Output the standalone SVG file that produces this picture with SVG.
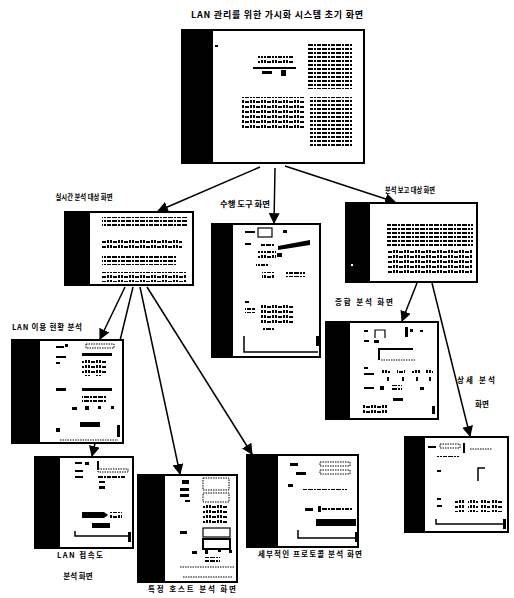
<svg xmlns="http://www.w3.org/2000/svg" width="514" height="598" viewBox="0 0 514 598">
<style>
.lbl{font-family:"Noto Sans CJK KR","Noto Sans",sans-serif;font-size:7.5px;font-weight:bold;fill:#000;text-anchor:middle}
.ttl{font-size:9px}
.frame{fill:#fff;stroke:#000;stroke-width:2}
.band{fill:#000}
.tx{fill:url(#tx)}
.tx2{fill:url(#tx2)}
.k{fill:#000}
.ol{fill:none;stroke:#000;stroke-width:1.2}
.dl{fill:none;stroke:#000;stroke-width:1;stroke-dasharray:1.5 1}
.con{fill:none;stroke:#000;stroke-width:1.5}
</style>
<defs>
<pattern id="tx" width="14" height="4" patternUnits="userSpaceOnUse">
<rect x="0" y="0" width="5" height="2" fill="#000"/><rect x="6" y="0" width="2" height="2" fill="#000"/><rect x="9" y="0" width="4" height="2" fill="#000"/>
</pattern>
<pattern id="tx2" width="11" height="5" patternUnits="userSpaceOnUse">
<rect x="0" y="0" width="2" height="3" fill="#000"/><rect x="3" y="1" width="4" height="2" fill="#000"/><rect x="8" y="0" width="2" height="3" fill="#000"/>
</pattern>
<marker id="ah" viewBox="0 0 10 10" refX="9" refY="5" markerWidth="11" markerHeight="11" markerUnits="userSpaceOnUse" orient="auto">
<path d="M0,0 L10,5 L0,10 Z" fill="#000"/>
</marker>
</defs>

<text class="lbl ttl" x="277" y="18" textLength="172" lengthAdjust="spacing">LAN 관리를 위한 가시화 시스템 초기 화면</text>

<g id="connectors">
<path class="con" d="M260,167 L158,211" marker-end="url(#ah)"/>
<path class="con" d="M275,168 L274,223" marker-end="url(#ah)"/>
<path class="con" d="M285,166 L395,202" marker-end="url(#ah)"/>
<path class="con" d="M125,287 L100,339" marker-end="url(#ah)"/>
<path class="con" d="M133,287 L92,456" marker-end="url(#ah)"/>
<path class="con" d="M140,287 L180,474" marker-end="url(#ah)"/>
<path class="con" d="M147,287 L252,454" marker-end="url(#ah)"/>
<path class="con" d="M417,283 L402,321" marker-end="url(#ah)"/>
<path class="con" d="M432,283 L470,436" marker-end="url(#ah)"/>
</g>

<g id="n-main">
<rect class="frame" x="182" y="30" width="182" height="133"/>
<rect class="band" x="182" y="30" width="31" height="133"/>
<rect class="k" x="215" y="45" width="3" height="2"/>
<rect class="tx2" x="258" y="56" width="36" height="9"/>
<rect class="k" x="253" y="67" width="43" height="2"/>
<rect class="k" x="262" y="71" width="10" height="3"/>
<rect class="k" x="281" y="70" width="5" height="6"/>
<rect class="tx" x="308" y="43" width="44" height="46"/>
<rect class="tx2" x="242" y="97" width="62" height="33"/>
<rect class="tx" x="310" y="97" width="42" height="51"/>
</g>

<g id="n-realtime">
<text class="lbl" x="84" y="200" textLength="57" lengthAdjust="spacingAndGlyphs">실시간 분석 대상 화면</text>
<rect class="frame" x="65" y="212" width="128" height="73"/>
<rect class="band" x="65" y="212" width="25" height="73"/>
<rect class="tx" x="102" y="217" width="85" height="11"/>
<rect class="tx2" x="102" y="238" width="80" height="11"/>
<rect class="tx" x="102" y="255" width="75" height="10"/>
<rect class="tx2" x="102" y="272" width="85" height="10"/>
</g>

<g id="n-tools">
<text class="lbl" x="245" y="207" textLength="50" lengthAdjust="spacingAndGlyphs">수행 도구 화면</text>
<rect class="frame" x="212" y="224" width="108" height="133"/>
<rect class="band" x="212" y="224" width="21" height="133"/>
<rect class="k" x="245" y="231" width="10" height="2"/>
<rect class="ol" x="258" y="228" width="14" height="9"/>
<rect class="k" x="283" y="230" width="4" height="3"/>
<rect class="k" x="245" y="243" width="6" height="2"/>
<rect class="tx" x="260" y="243" width="14" height="5"/>
<path class="k" d="M278,246 L310,240 L310,245 L278,250 Z"/>
<rect class="tx2" x="258" y="251" width="18" height="8"/>
<rect class="k" x="277" y="253" width="5" height="4"/>
<rect class="tx" x="256" y="262" width="12" height="6"/>
<rect class="tx2" x="262" y="272" width="12" height="6"/>
<rect class="tx" x="285" y="271" width="20" height="6"/>
<rect class="k" x="245" y="301" width="4" height="2"/>
<rect class="tx" x="245" y="307" width="10" height="6"/>
<rect class="tx2" x="260" y="305" width="34" height="18"/>
<rect class="tx" x="263" y="326" width="11" height="5"/>
<path class="con" d="M244,336 L244,352 L318,352"/>
<rect class="k" x="316" y="336" width="3" height="10"/>
</g>

<g id="n-report">
<text class="lbl" x="410" y="193" textLength="50" lengthAdjust="spacingAndGlyphs">분석 보고 대상 화면</text>
<rect class="frame" x="346" y="203" width="131" height="79"/>
<rect class="band" x="346" y="203" width="24" height="79"/>
<rect x="351" y="264" width="2" height="2" fill="#fff"/>
<rect class="tx" x="387" y="224" width="86" height="22"/>
<rect class="tx2" x="387" y="249" width="86" height="24"/>
</g>

<g id="n-lanuse">
<text class="lbl" x="47" y="330" textLength="70" lengthAdjust="spacing">LAN 이용 현황 분석</text>
<rect class="frame" x="12" y="340" width="111" height="103"/>
<rect class="band" x="12" y="340" width="28" height="103"/>
<rect class="k" x="56" y="346" width="8" height="2"/>
<rect class="k" x="65" y="344" width="3" height="3"/>
<rect class="dl" x="86" y="344" width="28" height="4"/>
<rect class="k" x="56" y="356" width="10" height="2"/>
<rect class="k" x="82" y="353" width="30" height="3"/>
<rect class="k" x="56" y="362" width="4" height="2"/>
<rect class="tx2" x="82" y="359" width="24" height="17"/>
<rect class="k" x="56" y="388" width="10" height="3"/>
<rect class="k" x="82" y="388" width="30" height="3"/>
<rect class="tx" x="82" y="394" width="24" height="10"/>
<rect class="k" x="72" y="407" width="5" height="3"/>
<rect class="k" x="85" y="406" width="4" height="4"/>
<rect class="k" x="98" y="406" width="3" height="3"/>
<rect class="k" x="111" y="406" width="3" height="3"/>
<rect class="k" x="80" y="422" width="20" height="5"/>
<rect class="k" x="56" y="428" width="4" height="4"/>
<path class="dl" d="M60,440 L118,440"/>
<rect class="k" x="117" y="425" width="3" height="12"/>
</g>

<g id="n-lanmap">
<rect class="frame" x="35" y="457" width="98" height="91"/>
<rect class="band" x="35" y="457" width="25" height="91"/>
<rect class="k" x="75" y="462" width="7" height="2"/>
<rect class="k" x="85" y="462" width="4" height="3"/>
<rect class="k" x="75" y="470" width="8" height="2"/>
<rect class="k" x="75" y="476" width="8" height="2"/>
<rect class="k" x="97" y="461" width="2" height="9"/>
<rect class="dl" x="98" y="469" width="30" height="3"/>
<rect class="tx" x="97" y="474" width="28" height="4"/>
<rect class="k" x="99" y="481" width="6" height="2"/>
<rect class="k" x="99" y="486" width="6" height="3"/>
<path class="k" d="M82,512 L104,512 L108,515 L104,518 L82,518 Z"/>
<rect class="tx2" x="110" y="512" width="12" height="7"/>
<rect class="k" x="92" y="523" width="18" height="5"/>
<path class="con" d="M75,531 L75,536 L130,536"/>
<rect class="k" x="128" y="532" width="3" height="10"/>
<text class="lbl" x="80" y="558" textLength="46" lengthAdjust="spacing">LAN 접속도</text>
<text class="lbl" x="78" y="579">분석 화면</text>
</g>

<g id="n-host">
<rect class="frame" x="138" y="475" width="99" height="107"/>
<rect class="band" x="138" y="475" width="27" height="107"/>
<rect class="k" x="182" y="480" width="7" height="4"/>
<rect class="k" x="180" y="488" width="9" height="3"/>
<rect class="k" x="180" y="494" width="9" height="3"/>
<rect class="k" x="185" y="500" width="5" height="2"/>
<rect class="dl" x="203" y="478" width="26" height="12"/>
<rect class="dl" x="203" y="493" width="26" height="9"/>
<rect class="tx2" x="203" y="505" width="25" height="20"/>
<rect class="k" x="180" y="531" width="7" height="3"/>
<rect class="ol" x="203" y="528" width="27" height="9"/>
<rect class="ol" x="203" y="539" width="27" height="10" style="stroke-width:2"/>
<rect class="k" x="192" y="551" width="5" height="3"/>
<rect class="k" x="205" y="548" width="3" height="6"/>
<rect class="k" x="218" y="549" width="3" height="3"/>
<rect class="k" x="229" y="550" width="3" height="3"/>
<rect class="tx" x="205" y="557" width="15" height="6"/>
<path class="dl" d="M180,567 L235,567"/>
<path class="dl" d="M183,577 L233,577"/>
<text class="lbl" x="192" y="592" textLength="88" lengthAdjust="spacing">특정 호스트 분석 화면</text>
</g>

<g id="n-proto">
<rect class="frame" x="247" y="455" width="111" height="92"/>
<rect class="band" x="247" y="455" width="31" height="92"/>
<rect class="k" x="290" y="463" width="8" height="3"/>
<rect class="dl" x="320" y="462" width="30" height="4"/>
<rect class="k" x="296" y="472" width="10" height="3"/>
<rect class="dl" x="320" y="470" width="30" height="4"/>
<rect class="k" x="288" y="484" width="5" height="3"/>
<rect class="tx" x="302" y="489" width="45" height="3"/>
<rect class="k" x="305" y="508" width="8" height="3"/>
<rect class="k" x="318" y="506" width="3" height="6"/>
<rect class="tx" x="322" y="508" width="30" height="3"/>
<rect class="k" x="316" y="519" width="40" height="7"/>
<path class="con" d="M298,530 L298,538 L356,538"/>
<rect class="k" x="355" y="532" width="3" height="10"/>
<text class="lbl" x="310" y="557" textLength="104" lengthAdjust="spacing">세부적인 프로토콜 분석 화면</text>
</g>

<g id="n-summary">
<text class="lbl" x="364" y="305" textLength="58" lengthAdjust="spacing">종합 분석 화면</text>
<rect class="frame" x="326" y="322" width="112" height="97"/>
<rect class="band" x="326" y="322" width="24" height="97"/>
<rect class="k" x="364" y="330" width="4" height="2"/>
<path class="ol" d="M375,338 L375,330 L385,330 L385,338"/>
<rect class="k" x="405" y="327" width="3" height="10"/>
<rect class="k" x="410" y="329" width="3" height="3"/>
<rect class="k" x="420" y="330" width="3" height="2"/>
<rect class="k" x="364" y="340" width="5" height="2"/>
<rect class="k" x="374" y="340" width="5" height="3"/>
<rect class="k" x="378" y="348" width="35" height="2"/>
<rect class="k" x="378" y="348" width="2" height="12"/>
<path class="dl" d="M381,360 L416,360"/>
<rect class="k" x="364" y="367" width="4" height="2"/>
<rect class="k" x="364" y="373" width="10" height="2"/>
<rect class="tx2" x="382" y="369" width="8" height="5"/>
<rect class="tx2" x="397" y="369" width="8" height="5"/>
<rect class="tx2" x="412" y="369" width="8" height="5"/>
<rect class="tx2" x="425" y="369" width="8" height="5"/>
<rect class="k" x="387" y="377" width="2" height="4"/>
<rect class="k" x="402" y="377" width="2" height="4"/>
<rect class="k" x="416" y="377" width="2" height="4"/>
<rect class="k" x="429" y="377" width="2" height="4"/>
<rect class="k" x="364" y="387" width="10" height="2"/>
<rect class="k" x="380" y="386" width="4" height="4"/>
<rect class="tx" x="392" y="385" width="10" height="5"/>
<rect class="k" x="420" y="387" width="4" height="3"/>
<rect class="k" x="393" y="398" width="10" height="3"/>
<rect class="tx2" x="363" y="405" width="25" height="8"/>
<rect class="k" x="432" y="406" width="3" height="8"/>
</g>

<g id="n-detail">
<text class="lbl" x="476" y="383" textLength="38" lengthAdjust="spacing">상세 분석</text>
<text class="lbl" x="482" y="407">화면</text>
<rect class="frame" x="405" y="437" width="103" height="95"/>
<rect class="band" x="405" y="437" width="20" height="95"/>
<rect class="k" x="428" y="446" width="8" height="2"/>
<rect class="dl" x="440" y="444" width="20" height="4"/>
<rect class="k" x="463" y="443" width="2" height="10"/>
<path class="dl" d="M470,449 L492,449"/>
<rect class="tx" x="437" y="454" width="22" height="3"/>
<rect class="k" x="437" y="470" width="4" height="2"/>
<path class="con" d="M478,481 L478,468 L485,468"/>
<rect class="k" x="437" y="498" width="4" height="2"/>
<rect class="k" x="437" y="505" width="5" height="2"/>
<rect class="tx2" x="455" y="498" width="10" height="14"/>
<rect class="tx2" x="468" y="498" width="10" height="14"/>
<rect class="tx2" x="480" y="498" width="10" height="14"/>
<rect class="tx2" x="492" y="498" width="10" height="14"/>
<path class="con" d="M436,519 L436,524 L505,524"/>
<rect class="k" x="503" y="519" width="3" height="10"/>
</g>
</svg>
